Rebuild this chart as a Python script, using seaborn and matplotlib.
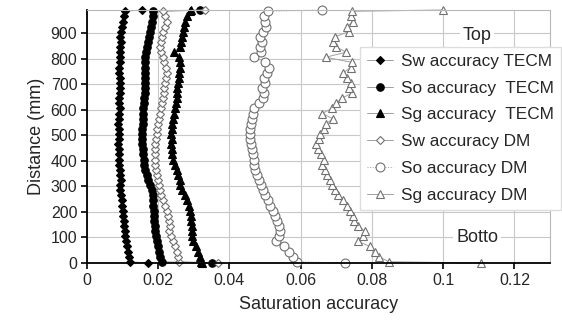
import matplotlib
matplotlib.use("Agg")
import matplotlib.pyplot as plt
import seaborn as sns
import pandas as pd

# depth positions (mm)
depth_mm = [0, 5, 25, 45, 65, 85, 105, 125, 145, 165, 185, 205, 225, 245, 265, 285,
            305, 325, 345, 365, 385, 405, 425, 445, 465, 485, 505, 525, 545, 565,
            585, 605, 625, 645, 665, 685, 705, 725, 745, 765, 785, 805, 825, 845,
            865, 885, 905, 925, 945, 965, 985, 990]

sw_tecm = [0.0170,
           0.0121, 0.0117, 0.0114, 0.0112, 0.0110, 0.0108, 0.0107, 0.0105, 0.0104, 0.0102,
           0.0101, 0.0099, 0.0098, 0.0096, 0.0094, 0.0093, 0.0095, 0.0094, 0.0092, 0.0091,
           0.0090, 0.0089, 0.0090, 0.0088, 0.0089, 0.0091, 0.0090, 0.0088, 0.0089, 0.0091,
           0.0092, 0.0090, 0.0091, 0.0093, 0.0092, 0.0094, 0.0092, 0.0090, 0.0091, 0.0093,
           0.0092, 0.0094, 0.0093, 0.0095, 0.0094, 0.0096, 0.0098, 0.0100, 0.0103, 0.0106,
           0.0154]

so_tecm = [0.0350,
           0.0210, 0.0206, 0.0202, 0.0199, 0.0197, 0.0195, 0.0192, 0.0190, 0.0189, 0.0188,
           0.0187, 0.0186, 0.0186, 0.0185, 0.0183, 0.0178, 0.0172, 0.0168, 0.0164, 0.0161,
           0.0159, 0.0157, 0.0156, 0.0155, 0.0154, 0.0155, 0.0154, 0.0156, 0.0157, 0.0156,
           0.0158, 0.0160, 0.0161, 0.0162, 0.0163, 0.0163, 0.0162, 0.0163, 0.0164, 0.0163,
           0.0164, 0.0166, 0.0168, 0.0170, 0.0173, 0.0176, 0.0179, 0.0182, 0.0184, 0.0186,
           0.0317]

sg_tecm = [0.0322,
           0.0320, 0.0316, 0.0311, 0.0305, 0.0299, 0.0296, 0.0295, 0.0294, 0.0292, 0.0291,
           0.0290, 0.0287, 0.0282, 0.0275, 0.0268, 0.0262, 0.0260, 0.0256, 0.0252, 0.0246,
           0.0242, 0.0239, 0.0238, 0.0237, 0.0238, 0.0237, 0.0239, 0.0240, 0.0241, 0.0244,
           0.0247, 0.0250, 0.0252, 0.0252, 0.0254, 0.0256, 0.0258, 0.0259, 0.0261, 0.0260,
           0.0258, 0.0243, 0.0262, 0.0265, 0.0268, 0.0270, 0.0273, 0.0276, 0.0281, 0.0288,
           0.0292]

sw_dm = [0.0367,
         0.0258, 0.0255, 0.0252, 0.0247, 0.0241, 0.0236, 0.0229, 0.0233, 0.0230, 0.0227,
         0.0224, 0.0218, 0.0213, 0.0209, 0.0205, 0.0201, 0.0198, 0.0196, 0.0194, 0.0192,
         0.0191, 0.0190, 0.0192, 0.0191, 0.0193, 0.0196, 0.0197, 0.0198, 0.0201, 0.0204,
         0.0207, 0.0211, 0.0213, 0.0215, 0.0217, 0.0219, 0.0222, 0.0224, 0.0221, 0.0216,
         0.0212, 0.0208, 0.0205, 0.0207, 0.0210, 0.0214, 0.0220, 0.0224, 0.0219, 0.0214,
         0.0330]

so_dm = [0.0724,
         0.0590, 0.0578, 0.0566, 0.0552, 0.0530, 0.0538, 0.0542, 0.0538, 0.0533, 0.0528,
         0.0521, 0.0515, 0.0508, 0.0501, 0.0494, 0.0488, 0.0482, 0.0477, 0.0472, 0.0470,
         0.0468, 0.0465, 0.0463, 0.0460, 0.0458, 0.0457, 0.0459, 0.0461, 0.0463, 0.0466,
         0.0470, 0.0482, 0.0494, 0.0496, 0.0492, 0.0500, 0.0496, 0.0504, 0.0512, 0.0500,
         0.0470, 0.0488, 0.0485, 0.0490, 0.0487, 0.0494, 0.0502, 0.0500, 0.0498, 0.0508,
         0.0659]

sg_dm = [0.1105,
         0.0847, 0.0820, 0.0810, 0.0794, 0.0760, 0.0775, 0.0780, 0.0762, 0.0750, 0.0746,
         0.0738, 0.0730, 0.0718, 0.0705, 0.0695, 0.0688, 0.0682, 0.0675, 0.0668, 0.0660,
         0.0666, 0.0656, 0.0648, 0.0642, 0.0650, 0.0655, 0.0665, 0.0672, 0.0690, 0.0660,
         0.0688, 0.0700, 0.0715, 0.0745, 0.0735, 0.0740, 0.0730, 0.0720, 0.0740, 0.0745,
         0.0670, 0.0728, 0.0700, 0.0690, 0.0695, 0.0735, 0.0730, 0.0747, 0.0740, 0.0745,
         0.0999]

series_labels = ["Sw accuracy TECM", "So accuracy  TECM", "Sg accuracy  TECM",
                 "Sw accuracy DM", "So accuracy DM", "Sg accuracy DM"]
x_ticks = [0, 0.02, 0.04, 0.06, 0.08, 0.1, 0.12]
x_tick_labels = ["0", "0.02", "0.04", "0.06", "0.08", "0.1", "0.12"]
y_ticks = [0, 100, 200, 300, 400, 500, 600, 700, 800, 900]

sns.set_theme(style="white")
plt.rcParams["font.family"] = ["Liberation Sans", "DejaVu Sans"]

W, H = 562, 331
fig = plt.figure(figsize=(W / 100, H / 100), dpi=100)
ax = fig.add_axes([87 / W, 68 / H, 463 / W, 253 / H])

styles = [
    dict(marker="D", markersize=4.4, markerfacecolor="black", markeredgecolor="black", linestyle="-"),
    dict(marker="o", markersize=5.4, markerfacecolor="black", markeredgecolor="black", linestyle="-"),
    dict(marker="^", markersize=6.0, markerfacecolor="black", markeredgecolor="black", linestyle="-"),
    dict(marker="D", markersize=4.2, markerfacecolor="white", markeredgecolor="#707070", linestyle="-"),
    dict(marker="o", markersize=6.4, markerfacecolor="white", markeredgecolor="#707070", linestyle=":"),
    dict(marker="^", markersize=6.4, markerfacecolor="white", markeredgecolor="#707070", linestyle="-"),
]
all_series = [sw_tecm, so_tecm, sg_tecm, sw_dm, so_dm, sg_dm]

for vals, lab, st in zip(all_series, series_labels, styles):
    df = pd.DataFrame({"acc": vals, "depth": depth_mm})
    sns.lineplot(data=df, x="acc", y="depth", sort=False, estimator=None, ax=ax,
                 color="#a0a0a0", linewidth=0.7, markeredgewidth=0.8,
                 label=lab, clip_on=False, **st)

ax.set_xlim(0, 0.13)
ax.set_ylim(0, 990)
ax.set_xticks(x_ticks)
ax.set_xticklabels(x_tick_labels)
ax.set_yticks(y_ticks)
ax.grid(True, color="#c8c8c8", linewidth=0.8)
ax.set_axisbelow(True)
for s in ["left", "bottom"]:
    ax.spines[s].set_color("black")
    ax.spines[s].set_linewidth(1.3)
for s in ["top", "right"]:
    ax.spines[s].set_color("#b8b8b8")
    ax.spines[s].set_linewidth(0.8)
ax.tick_params(axis="both", direction="out", length=4, width=1.2, color="black",
               labelsize=11.5, left=True, bottom=True, pad=3)
ax.set_xlabel("Saturation accuracy", fontsize=13, labelpad=6)
ax.set_ylabel("Distance (mm)", fontsize=13, labelpad=4)

fig.text(477 / W, 1 - 36 / H, "Top", fontsize=13, ha="center", va="center",
         bbox=dict(facecolor="white", edgecolor="none", pad=2), zorder=5)
fig.text(477 / W, 1 - 237 / H, "Botto", fontsize=13, ha="center", va="center",
         bbox=dict(facecolor="white", edgecolor="none", pad=2), zorder=5)

leg = ax.legend(loc="upper left", bbox_to_anchor=(360 / W, (H - 47) / H),
                bbox_transform=fig.transFigure, borderaxespad=0, fontsize=12.4,
                frameon=True, fancybox=False, edgecolor="#dddddd", facecolor="white",
                framealpha=1, labelspacing=0.68, handlelength=1.5, handletextpad=0.5,
                borderpad=0.4)
leg.set_zorder(10)

fig.savefig("out.png", dpi=100)
